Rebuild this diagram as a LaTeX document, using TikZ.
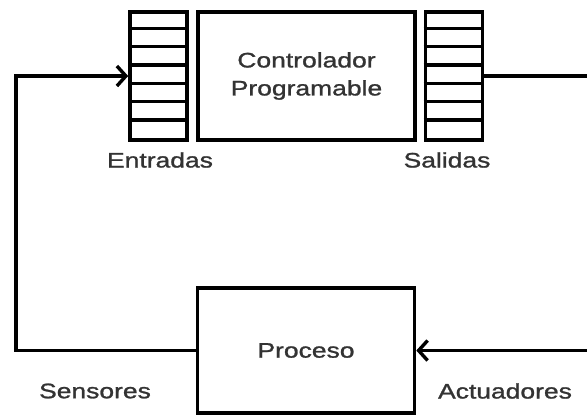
\documentclass[tikz,border=0pt]{standalone}
\usepackage{fontspec}
\newfontfamily\etiq[FakeStretch=1.26, FakeBold=1.2]{Liberation Sans}
\usetikzlibrary{arrows.meta}

\tikzset{
  caja/.style={draw, line width=3.6pt, minimum width=217pt, minimum height=128pt,
    align=center, text=black!80, font=\etiq\fontsize{21}{28}\selectfont},
  registro/.style={draw, line width=3.6pt, minimum width=57pt, minimum height=128pt},
  rotulo/.style={text=black!80, font=\etiq\fontsize{21}{28}\selectfont},
  flecha/.style={line width=3.4pt, -{Straight Barb[length=9pt, width=20pt]}}
}

\begin{document}
\begin{tikzpicture}[x=1pt, y=-1pt]

% Marco
\useasboundingbox (0,0) rectangle (587,416);
\clip (0,0) rectangle (587,416);

% Bloques
\node[registro] (ent) at (158.5,76) {};
\node[caja] (plc) at (306.5,76) {Controlador\\Programable};
\node[registro] (sal) at (454,76) {};
\node[caja, minimum height=125pt] (proc) at (306,350.5) {Proceso};

% Celdas de los registros
\foreach \k in {1,...,6} {
  \draw[line width=3.4pt] (ent.north west) ++(0,128*\k/7) -- ++(57,0);
  \draw[line width=3.4pt] (sal.north west) ++(0,128*\k/7) -- ++(58,0);
}

% Rotulos
\node[rotulo] (lent) at (160,160) {Entradas};
\node[rotulo] (lsal) at (447,160) {Salidas};
\node[rotulo] (lsen) at (95,391) {Sensores};
\node[rotulo] (lact) at (505,391) {Actuadores};

% Lazo
\coordinate (izq) at (16,200);
\coordinate (der) at (596,200);
\draw[flecha] (proc.west) -| (izq) |- (ent.west);
\draw[flecha] (sal.east) -| (der) |- (proc.east);

\end{tikzpicture}
\end{document}
